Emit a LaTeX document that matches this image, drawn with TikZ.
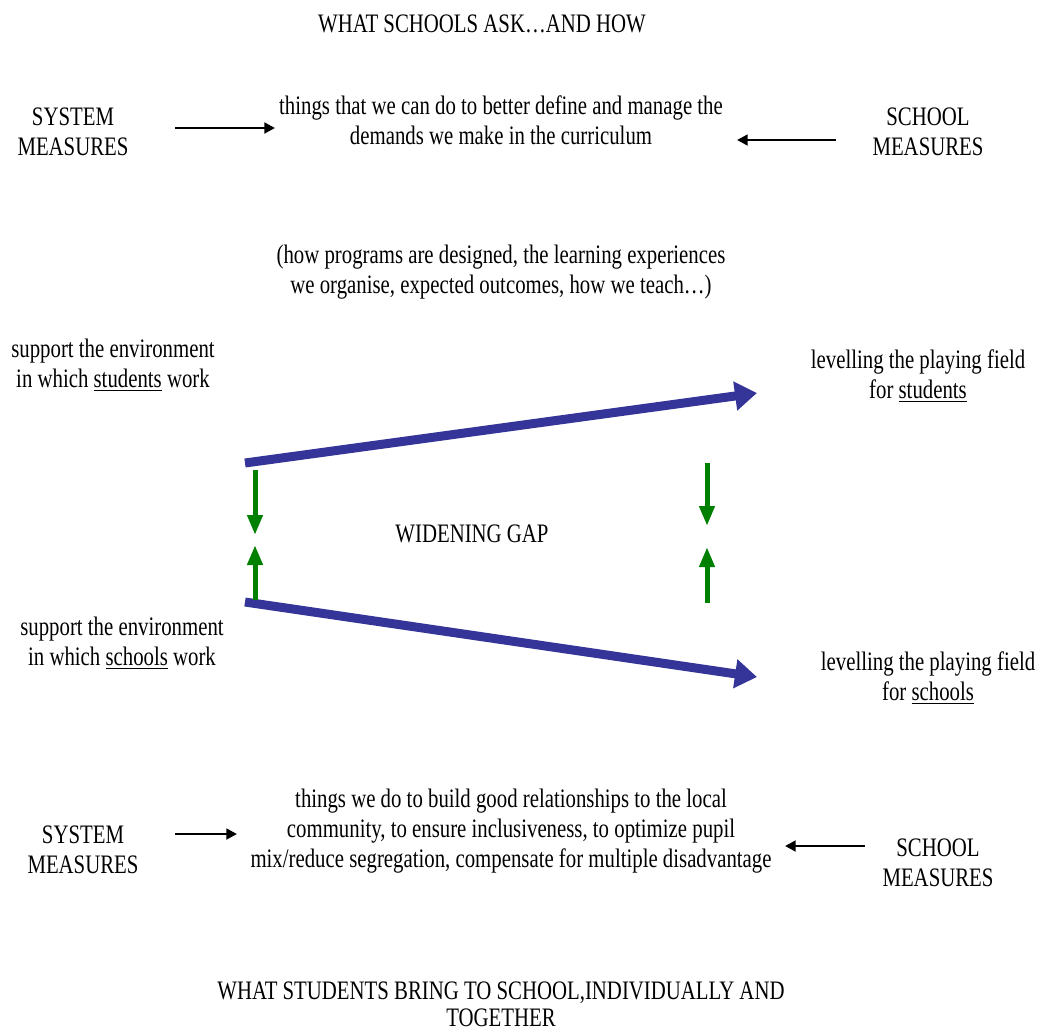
\documentclass[tikz,border=0pt]{standalone}
\usepackage{fontspec}
\setmainfont{Liberation Serif}[FakeStretch=0.78]
\usetikzlibrary{arrows.meta}
\definecolor{gapblue}{RGB}{53,53,153}
\definecolor{gapgreen}{RGB}{0,128,0}
\tikzset{
  txt/.style={align=center, font=\fontsize{20}{22.5}\selectfont, inner sep=0pt},
  measure/.style={draw=black, line width=2.2pt, -{Triangle[length=8pt,width=8pt]}},
  field/.style={draw=gapblue, line width=6.75pt, -{Triangle[length=16.5pt,width=21pt]}},
  squeeze/.style={draw=gapgreen, line width=3.75pt, -{Triangle[length=15pt,width=11pt]}},
}
\begin{document}
\begin{tikzpicture}[x=0.75pt,y=0.75pt,yscale=-1]
        \useasboundingbox (0,0) rectangle (1038,1032);
        % top half
        \draw (482,24) node [txt] (askTitle) {WHAT SCHOOLS ASK…AND HOW};
        \draw (73,132) node [txt] (sysTop) {SYSTEM\\MEASURES};
        \draw (501,120) node [txt] (demands) {things that we can do to better define and manage the\\demands we make in the curriculum};
        \draw (928,132) node [txt] (schTop) {SCHOOL\\MEASURES};
        \draw (501,272) node [txt] (programs) {(how programs are designed, the learning experiences\\we organise, expected outcomes, how we teach…)};
        \coordinate (sysTopA) at (175,128);
        \coordinate (sysTopB) at (275,128);
        \coordinate (schTopA) at (836,140);
        \coordinate (schTopB) at (737,140);
        \draw [measure] (sysTopA) -- (sysTopB);
        \draw [measure] (schTopA) -- (schTopB);
        % the gap
        \draw (113,365) node [txt] (envStud) {support the environment\\in which \underline{students} work};
        \draw (918,376) node [txt] (fieldStud) {levelling the playing field\\for \underline{students}};
        \draw (472,534) node [txt] (gap) {WIDENING GAP};
        \draw (122,643) node [txt] (envSch) {support the environment\\in which \underline{schools} work};
        \draw (928,678) node [txt] (fieldSch) {levelling the playing field\\for \underline{schools}};
        \coordinate (studA) at (245,463);
        \coordinate (studB) at (757,393);
        \coordinate (schA) at (245,602);
        \coordinate (schB) at (757,677);
        \draw [field] (studA) -- (studB);
        \draw [field] (schA) -- (schB);
        \coordinate (lDownA) at (255,470);
        \coordinate (lDownB) at (255,535);
        \coordinate (lUpA) at (255,600);
        \coordinate (lUpB) at (255,545);
        \coordinate (rDownA) at (707,463);
        \coordinate (rDownB) at (707,526);
        \coordinate (rUpA) at (707,603);
        \coordinate (rUpB) at (707,547);
        \draw [squeeze] (lDownA) -- (lDownB);
        \draw [squeeze] (lUpA) -- (lUpB);
        \draw [squeeze] (rDownA) -- (rDownB);
        \draw [squeeze] (rUpA) -- (rUpB);
        % bottom half
        \draw (83,850) node [txt] (sysBot) {SYSTEM\\MEASURES};
        \draw (511,831) node [txt] (community) {things we do to build good relationships to the local\\community, to ensure inclusiveness, to optimize pupil\\mix/reduce segregation, compensate for multiple disadvantage};
        \draw (938,863) node [txt] (schBot) {SCHOOL\\MEASURES};
        \draw (501,1004) node [txt, font=\fontsize{20}{20.5}\selectfont] (bringTitle) {WHAT STUDENTS BRING TO SCHOOL,INDIVIDUALLY AND\\TOGETHER};
        \coordinate (sysBotA) at (175,834);
        \coordinate (sysBotB) at (237,834);
        \coordinate (schBotA) at (865,846);
        \coordinate (schBotB) at (785,846);
        \draw [measure] (sysBotA) -- (sysBotB);
        \draw [measure] (schBotA) -- (schBotB);
\end{tikzpicture}
\end{document}
